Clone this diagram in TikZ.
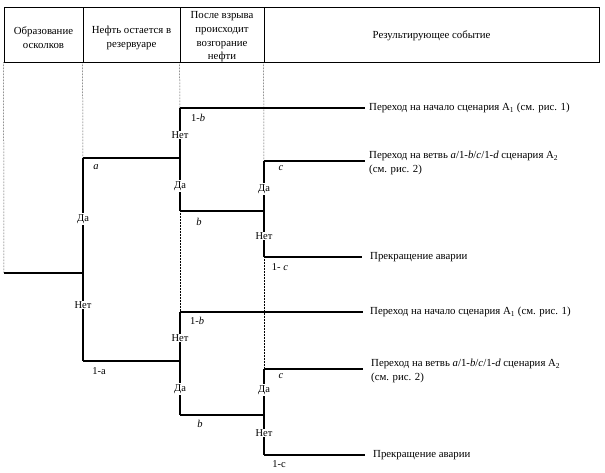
\documentclass[tikz,border=0pt]{standalone}
\usepackage{fontspec}
\setmainfont{Liberation Serif}
\begin{document}
\begin{tikzpicture}[x=1pt,y=-1pt,
  font=\fontsize{10.5}{12}\selectfont,
  tree/.style={line width=1.5pt},
  cell/.style={draw, line width=0.8pt, minimum height=55pt, inner sep=0pt},
  htext/.style={align=center, inner sep=0pt, font=\fontsize{10.8}{13.7}\selectfont},
  guide/.style={densely dotted, line width=0.5pt},
  yn/.style={fill=white, inner sep=1pt},
  prob/.style={inner sep=0pt},
  outcome/.style={anchor=west, inner sep=0pt, align=left, font=\fontsize{10.8}{14}\selectfont}]
\useasboundingbox (0,0) rectangle (605,472);

% header
\node[cell, minimum width=79pt] (h1) at (43.5,34.5) {};
\node[cell, minimum width=97pt] (h2) at (131.5,34.5) {};
\node[cell, minimum width=84pt] (h3) at (222,34.5) {};
\node[cell, minimum width=335pt] (h4) at (431.5,34.5) {};
\node[htext] (t1) at ([yshift=-3.5pt]h1.center) {Образование\\осколков};
\node[htext] (t2) at ([yshift=-3.5pt]h2.center) {Нефть остается в\\резервуаре};
\node[htext] (t3) at ([yshift=-2.5pt]h3.center) {После взрыва\\происходит\\возгорание\\нефти};
\node[htext] (t4) at ([yshift=-1.5pt]h4.center) {Результирующее событие};

% coordinates
\coordinate (r0) at (4,273);
\coordinate (r1) at (83,273);
\coordinate (a1) at (83,158);
\coordinate (a0) at (83,361);
\coordinate (Ut) at (180,108);
\coordinate (Um) at (180,158);
\coordinate (Ub) at (180,211);
\coordinate (UtE) at (365,108);
\coordinate (Vm) at (264,211);
\coordinate (Vt) at (264,161);
\coordinate (Vb) at (264,257);
\coordinate (VtE) at (365,161);
\coordinate (VbE) at (362,257);
\coordinate (Lt) at (180,312);
\coordinate (Lm) at (180,361);
\coordinate (Lb) at (180,415);
\coordinate (LtE) at (363,312);
\coordinate (Wm) at (264,415);
\coordinate (Wt) at (264,369);
\coordinate (Wb) at (264,455);
\coordinate (WtE) at (363,369);
\coordinate (WbE) at (365,455);

% guides
\draw[guide] (h1.south west) -- (r0);
\draw[guide] (h2.south west) -- (a1);
\draw[guide] (h3.south west) -- (Ut);
\draw[guide] (Ub) -- (Lt);
\draw[guide] (h4.south west) -- (Vt);
\draw[guide] (Vb) -- (Wt);

% tree
\draw[tree] (r0) -- (r1);
\draw[tree] (a1) -- (a0);
\draw[tree] (a1) -- (Um);
\draw[tree] (Ut) -- (Ub);
\draw[tree] (Ut) -- (UtE);
\draw[tree] (Ub) -- (Vm);
\draw[tree] (Vt) -- (Vb);
\draw[tree] (Vt) -- (VtE);
\draw[tree] (Vb) -- (VbE);
\draw[tree] (a0) -- (Lm);
\draw[tree] (Lt) -- (Lb);
\draw[tree] (Lt) -- (LtE);
\draw[tree] (Lb) -- (Wm);
\draw[tree] (Wt) -- (Wb);
\draw[tree] (Wt) -- (WtE);
\draw[tree] (Wb) -- (WbE);

% yes/no labels
\node[yn] (y1) at (83,219) {Да};
\node[yn] (n1) at (83,305) {Нет};
\node[yn] (n2) at (180,135) {Нет};
\node[yn] (y2) at (180,186) {Да};
\node[yn] (y3) at (264,189) {Да};
\node[yn] (n3) at (264,236) {Нет};
\node[yn] (n4) at (180,338) {Нет};
\node[yn] (y4) at (180,389) {Да};
\node[yn] (y5) at (264,390) {Да};
\node[yn] (n5) at (264,433) {Нет};

% probabilities
\node[prob] (pa) at (96,167) {\textit{a}};
\node[prob] (pna) at (99,371) {1-a};
\node[prob] (pnb1) at (198,118) {1-\textit{b}};
\node[prob] (pb1) at (199,222) {\textit{b}};
\node[prob] (pc1) at (281,168) {\textit{c}};
\node[prob] (pnc1) at (280,267) {1- \textit{c}};
\node[prob] (pnb2) at (197,321) {1-\textit{b}};
\node[prob] (pb2) at (200,424) {\textit{b}};
\node[prob] (pc2) at (281,376) {\textit{c}};
\node[prob] (pnc2) at (279,464) {1-c};

% outcomes
\node[outcome] (o1) at (369,108) {Переход на начало сценария A\textsubscript{1} (см. рис. 1)};
\node[outcome] (o2) at (369,163) {Переход на ветвь \textit{a}/1-\textit{b}/\textit{c}/1-\textit{d} сценария A\textsubscript{2}\\(см. рис. 2)};
\node[outcome] (o3) at (370,257) {Прекращение аварии};
\node[outcome] (o4) at (370,312) {Переход на начало сценария A\textsubscript{1} (см. рис. 1)};
\node[outcome] (o5) at (371,371) {Переход на ветвь \textit{a}/1-\textit{b}/\textit{c}/1-\textit{d} сценария A\textsubscript{2}\\(см. рис. 2)};
\node[outcome] (o6) at (373,455) {Прекращение аварии};
\end{tikzpicture}
\end{document}
